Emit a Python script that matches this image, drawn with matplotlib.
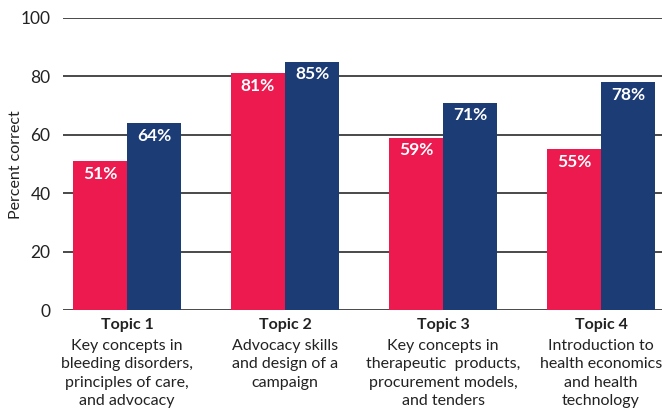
import numpy as np
import matplotlib.pyplot as plt

plt.rcParams['font.family'] = ['Lato', 'DejaVu Sans']

# data
topics = ['Topic 1', 'Topic 2', 'Topic 3', 'Topic 4']
descriptions = [
    'Key concepts in\nbleeding disorders,\nprinciples of care,\nand advocacy',
    'Advocacy skills\nand design of a\ncampaign',
    'Key concepts in\ntherapeutic  products,\nprocurement models,\nand tenders',
    'Introduction to\nhealth economics\nand health\ntechnology',
]
pre = [51, 81, 59, 55]
post = [64, 85, 71, 78]
yticks = [0, 20, 40, 60, 80, 100]

pink = '#EC1A4F'
navy = '#1C3C75'

fig = plt.figure(figsize=(6.62, 4.08), dpi=100)
ax = fig.add_axes([0.0952, 0.24, 0.9048, 0.716])

x = np.arange(len(topics))
w = 0.342

# gridlines first so bars sit on top
for t in yticks:
    ax.axhline(t, color='#3a3a3a', lw=1.3, zorder=1)

b1 = ax.bar(x - w / 2, pre, w, color=pink, zorder=2)
b2 = ax.bar(x + w / 2, post, w, color=navy, zorder=2)

for bars, vals in ((b1, pre), (b2, post)):
    for r, v in zip(bars, vals):
        ax.annotate(f'{v}%', (r.get_x() + r.get_width() / 2, v),
                    xytext=(0, -9), textcoords='offset points',
                    ha='center', va='center', color='white',
                    fontsize=12.5, fontweight='bold', zorder=3)

ax.set_xlim(-0.405, 3.386)
ax.set_ylim(0, 100)
ax.set_yticks(yticks)
ax.tick_params(axis='y', length=0, pad=9, labelsize=12.5, labelcolor='#222222')
ax.set_xticks([])
for s in ax.spines.values():
    s.set_visible(False)
fig.text(16 / 662, 0.596, 'Percent correct', rotation=90, ha='center',
         va='center', fontsize=11.5, color='#222222')

# category labels: bold title + description
for xi, t, d in zip(x, topics, descriptions):
    ax.annotate(t, (xi, 0), xycoords=('data', 'axes fraction'),
                xytext=(0, -6), textcoords='offset points',
                ha='center', va='top', fontsize=11.5, fontweight='bold',
                color='#222222')
    ax.annotate(d, (xi, 0), xycoords=('data', 'axes fraction'),
                xytext=(0, -21), textcoords='offset points',
                ha='center', va='top', fontsize=11.5, color='#222222',
                linespacing=1.38)

fig.savefig('out.png', dpi=100)
